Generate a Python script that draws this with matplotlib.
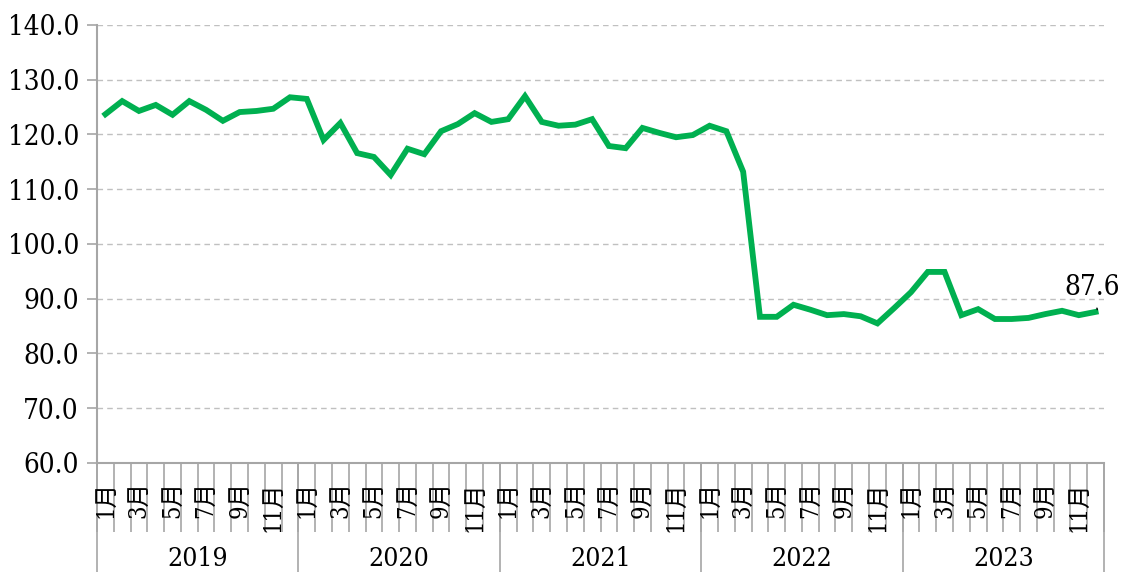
import matplotlib.pyplot as plt
import matplotlib.transforms as mtransforms
import numpy as np

plt.rcParams['font.family'] = ['DejaVu Serif', 'Noto Sans CJK SC']

years = ["2019", "2020", "2021", "2022", "2023"]
month_labels = ["1月", "3月", "5月", "7月", "9月", "11月"]

values_2019 = [123.7, 126.1, 124.3, 125.4, 123.6, 126.1, 124.5, 122.5, 124.1, 124.3, 124.7, 126.8]
values_2020 = [126.5, 119.0, 122.1, 116.6, 115.9, 112.6, 117.4, 116.4, 120.6, 121.9, 123.9, 122.3]
values_2021 = [122.8, 127.0, 122.3, 121.6, 121.8, 122.8, 117.9, 117.5, 121.2, 120.3, 119.5, 119.9]
values_2022 = [121.6, 120.6, 113.2, 86.7, 86.7, 88.9, 88.0, 87.0, 87.2, 86.8, 85.5, 88.3]
values_2023 = [91.2, 94.9, 94.9, 87.0, 88.1, 86.3, 86.3, 86.5, 87.2, 87.8, 87.0, 87.6]

values = values_2019 + values_2020 + values_2021 + values_2022 + values_2023
x = np.arange(len(values))

W, H = 1126, 572
fig = plt.figure(figsize=(W / 100, H / 100), dpi=100)
ax = fig.add_axes([97 / W, (H - 463) / H, (1104 - 97) / W, (463 - 25) / H])

green = "#00B050"
grey = "#A6A6A6"

ax.plot(x, values, color=green, lw=4.2, solid_joinstyle='miter', zorder=3)

ax.set_xlim(-0.5, len(values) - 0.5)
ax.set_ylim(60, 140)
ax.set_yticks(np.arange(60, 141, 10))
ax.set_yticklabels([f"{v:.1f}" for v in np.arange(60, 141, 10)],
                   fontsize=20, fontstretch='condensed')
ax.tick_params(axis='y', length=7, color=grey, width=1.2, pad=6)
ax.yaxis.grid(True, linestyle=(0, (4, 3)), color="#C0C0C0", lw=1)
ax.set_axisbelow(True)

for s in ["top", "right"]:
    ax.spines[s].set_visible(False)
for s in ["left", "bottom"]:
    ax.spines[s].set_color(grey)
    ax.spines[s].set_linewidth(1.5)

# category ticks between months
ax.set_xticks(np.arange(-0.5, len(values), 1.0))
ax.set_xticklabels([])
ax.tick_params(axis='x', length=50, color=grey, width=1.2, direction='out')

# month labels
fig_y = mtransforms.blended_transform_factory(ax.transData, fig.transFigure)
for yi in range(len(years)):
    for k, lab in enumerate(month_labels):
        xi = yi * 12 + k * 2
        ax.text(xi, (H - 481) / H, lab, transform=fig_y, rotation=90,
                ha='center', va='top', fontsize=17, fontstretch='condensed',
                family=['DejaVu Serif', 'Noto Sans CJK SC'])
    ax.text(yi * 12 + 5.5, (H - 558) / H, years[yi], transform=fig_y,
            ha='center', va='center', fontsize=19, fontstretch='condensed')

# year separators
for b in range(len(years) + 1):
    ax.plot([b * 12 - 0.5, b * 12 - 0.5], [0, (H - 463) / H], transform=fig_y,
            color=grey, lw=1.2, clip_on=False)

# last value label
ax.annotate(f"{values[-1]:.1f}", xy=(x[-1] + 0.1, values[-1] + 0.4),
            xytext=(x[-1] - 0.2, values[-1] + 4.4), ha='center', va='center',
            fontsize=20, fontstretch='condensed',
            arrowprops=dict(arrowstyle='-', color='black', lw=1, shrinkA=3, shrinkB=0))

fig.savefig("out.png", dpi=100)
